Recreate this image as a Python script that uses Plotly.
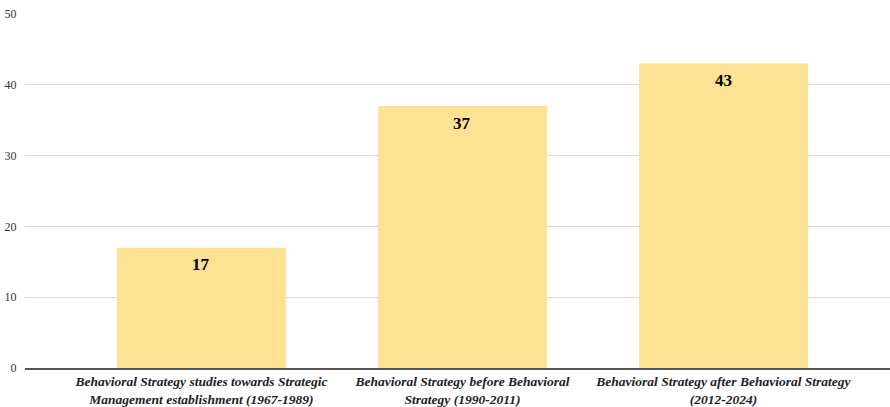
import plotly.graph_objects as go

categories = [
    "Behavioral Strategy studies towards Strategic<br>Management establishment (1967-1989)",
    "Behavioral Strategy before Behavioral<br>Strategy (1990-2011)",
    "Behavioral Strategy after Behavioral Strategy<br>(2012-2024)",
]
values = [17, 37, 43]
y_ticks = [0, 10, 20, 30, 40, 50]

SERIF = "Liberation Serif"

fig = go.Figure()
fig.add_trace(go.Bar(
    x=list(range(len(categories))),
    y=values,
    marker=dict(color="#FDE293", line=dict(width=0)),
    width=0.647,
    hoverinfo="skip",
))

for i, v in enumerate(values):
    fig.add_annotation(
        x=i, y=v, text=str(v), showarrow=False,
        yanchor="middle", yshift=-17,
        font=dict(family=SERIF, size=17, color="#000000", weight="bold"),
    )

fig.update_layout(
    width=890, height=407,
    margin=dict(l=25, r=0, t=14, b=39, autoexpand=False),
    paper_bgcolor="white", plot_bgcolor="white",
    showlegend=False,
    font=dict(family=SERIF),
)
fig.update_xaxes(
    range=[-0.676, 2.638],
    tickmode="array",
    tickvals=list(range(len(categories))),
    ticktext=categories,
    tickfont=dict(family=SERIF, size=13.5, color="#222222", weight="bold", style="italic"),
    showline=True, linecolor="#555555", linewidth=1.5,
    showgrid=False, zeroline=False, ticks="", automargin=False,
)
fig.update_yaxes(
    range=[0, 50],
    tickmode="array", tickvals=y_ticks,
    tickfont=dict(family=SERIF, size=12, color="#333333"),
    showgrid=True, gridcolor="#D9D9D9", gridwidth=1,
    zeroline=False, showline=False,
    ticks="outside", ticklen=5, tickcolor="rgba(0,0,0,0)",
    automargin=False,
)

fig.write_html("out.html")
